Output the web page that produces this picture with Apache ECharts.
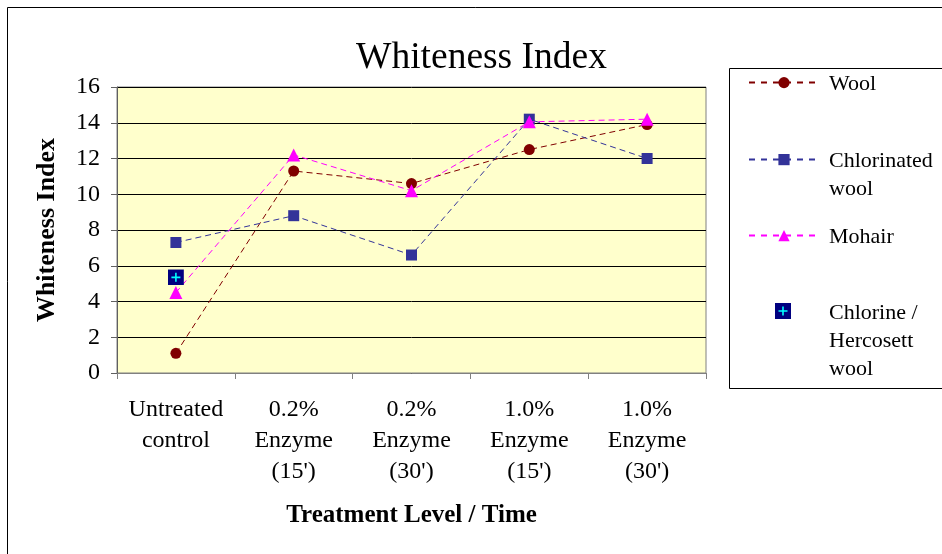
<!DOCTYPE html>
<html>
<head>
<meta charset="utf-8">
<script src="https://cdn.jsdelivr.net/npm/echarts@6/dist/echarts.min.js"></script>
<style>html,body{margin:0;padding:0;background:#fff;}#c{width:942px;height:554px;}</style>
</head>
<body>
<div id="c"></div>
<script>
const categories = ["Untreated\ncontrol", "0.2%\nEnzyme\n(15')", "0.2%\nEnzyme\n(30')", "1.0%\nEnzyme\n(15')", "1.0%\nEnzyme\n(30')"];
const seriesNames = ['Wool', 'Chlorinated wool', 'Mohair', 'Chlorine / Hercosett wool'];
const legendLines = [['Wool'], ['Chlorinated', 'wool'], ['Mohair'], ['Chlorine /', 'Hercosett', 'wool']];
const wool = [1.1, 11.3, 10.6, 12.5, 13.9];
const chlorinatedWool = [7.3, 8.8, 6.6, 14.2, 12.0];
const mohair = [4.5, 12.2, 10.2, 14.05, 14.2];
const hercosettWool = [5.35, null, null, null, null];
const yTicks = { min: 0, max: 16, interval: 2 };

const FONT = 'Liberation Serif';
const svg = "<svg xmlns='http://www.w3.org/2000/svg' width='16' height='16'><rect width='16' height='16' fill='#000080'/><path d='M8 3.5v9M3.5 8h9' stroke='#00FFFF' stroke-width='1.6'/></svg>";
const hercIcon = 'image://data:image/svg+xml;charset=utf-8,' + encodeURIComponent(svg);

const chart = echarts.init(document.getElementById('c'), null, { renderer: 'canvas' });

// legend rows: icon centre y and text
const rowCenters = [84, 161, 237, 313];
const legends = seriesNames.map((n, i) => {
  const h = i === 3 ? 20 : 14;
  return {
    data: [n], orient: 'vertical', left: 748, top: rowCenters[i] - h / 2, padding: 0,
    itemWidth: 70, itemHeight: h, selectedMode: false,
    lineStyle: { type: [6, 6] },
    formatter: () => '', textStyle: { fontSize: 1, lineHeight: 1 }
  };
});
const legendTexts = [];
legendLines.forEach((lines, i) => {
  lines.forEach((t, j) => {
    legendTexts.push({ type: 'text', left: 829, top: rowCenters[i] - 11 + j * 28,
      style: { text: t, font: '22px "Liberation Serif"', fill: '#000' }, silent: true });
  });
});

chart.setOption({
  backgroundColor: '#fff',
  animation: false,
  textStyle: { fontFamily: FONT },
  title: {
    text: 'Whiteness Index', left: 356, top: 38, padding: 0,
    textStyle: { fontFamily: FONT, fontWeight: 'normal', fontSize: 37.5, lineHeight: 40, color: '#000' }
  },
  legend: legends,
  grid: {
    left: 117, right: 236, top: 87, bottom: 181,
    show: true, backgroundColor: '#FFFFCC', borderColor: '#808080', borderWidth: 1
  },
  xAxis: {
    type: 'category', data: categories, boundaryGap: true,
    name: 'Treatment Level / Time', nameLocation: 'middle', nameGap: 130,
    nameTextStyle: { fontFamily: FONT, fontWeight: 'bold', fontSize: 25, color: '#000' },
    axisLine: { show: true, lineStyle: { color: '#808080', width: 1 } },
    axisTick: { show: true, interval: 0, length: 6, lineStyle: { color: '#808080' } },
    axisLabel: { interval: 0, fontFamily: FONT, fontSize: 24, lineHeight: 31, color: '#000', margin: 21 }
  },
  yAxis: {
    type: 'value', min: yTicks.min, max: yTicks.max, interval: yTicks.interval,
    name: 'Whiteness Index', nameLocation: 'middle', nameGap: 57, nameRotate: 90,
    nameTextStyle: { fontFamily: FONT, fontWeight: 'bold', fontSize: 26, color: '#000' },
    axisLine: { show: true, lineStyle: { color: '#606060', width: 1 } },
    axisTick: { show: true, length: 6, lineStyle: { color: '#606060' } },
    splitLine: { show: true, lineStyle: { color: '#000', width: 1 } },
    axisLabel: { fontFamily: FONT, fontSize: 24, color: '#000', margin: 17 }
  },
  series: [
    {
      name: seriesNames[0], type: 'line', data: wool, symbol: 'circle', symbolSize: 11,
      itemStyle: { color: '#800000' }, lineStyle: { color: '#800000', width: 1, type: [6, 4] }, z: 3
    },
    {
      name: seriesNames[1], type: 'line', data: chlorinatedWool, symbol: 'rect', symbolSize: 11,
      itemStyle: { color: '#333399' }, lineStyle: { color: '#333399', width: 1, type: [6, 4] }, z: 4
    },
    {
      name: seriesNames[2], type: 'line', data: mohair, symbol: 'triangle', symbolSize: 13,
      itemStyle: { color: '#FF00FF' }, lineStyle: { color: '#FF00FF', width: 1, type: [6, 4] }, z: 5
    },
    {
      name: seriesNames[3], type: 'line', data: hercosettWool, symbol: hercIcon, symbolSize: 16,
      showAllSymbol: true, connectNulls: false,
      itemStyle: { color: '#000080' }, lineStyle: { width: 0, opacity: 0 }, z: 6
    }
  ],
  graphic: [
    { type: 'polyline', shape: { points: [[7.5, 560], [7.5, 7.5], [950, 7.5]] }, style: { stroke: '#000', lineWidth: 1, fill: null }, silent: true },
    { type: 'rect', shape: { x: 729.5, y: 68.5, width: 240, height: 320 }, style: { stroke: '#000', lineWidth: 1, fill: null }, silent: true }
  ].concat(legendTexts)
});
</script>
</body>
</html>
